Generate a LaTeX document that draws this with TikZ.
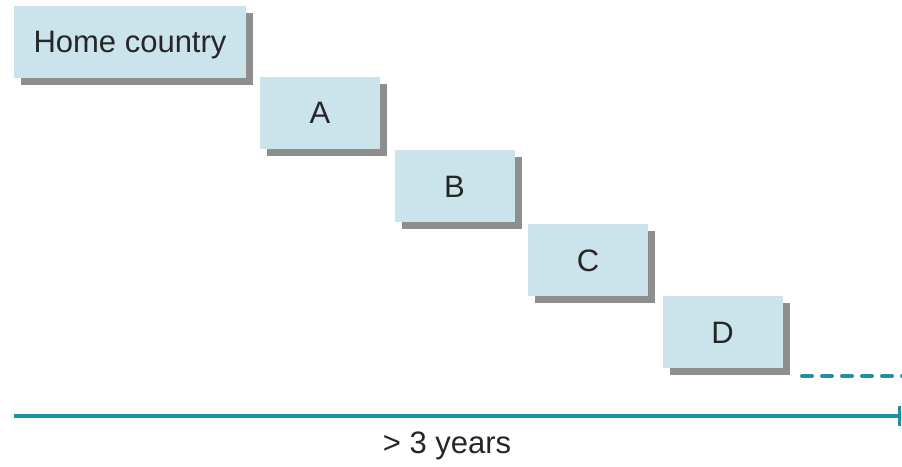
\documentclass[tikz,border=0pt]{standalone}
\usepackage{fontspec}
\setmainfont{Liberation Sans}
\usetikzlibrary{shadows,arrows.meta}
\definecolor{boxfill}{HTML}{CBE3EB}
\definecolor{shadowgray}{HTML}{8E8E8E}
\definecolor{teal}{HTML}{1E8FA8}
\begin{document}
\begin{tikzpicture}[x=1pt,y=-1pt,
  stage/.style={draw=none, fill=boxfill, minimum height=72pt, inner sep=0pt,
    font=\fontsize{31}{34}\selectfont, text=black!85,
    copy shadow={shadow xshift=7pt, shadow yshift=-7pt, fill=shadowgray, draw=none}},
  timeline/.style={draw=teal, line width=4pt}]
\useasboundingbox (0,0) rectangle (902,466);
% countries in sequence
\node[stage, minimum width=232pt, text depth=0pt, text height=22pt] (home) at (130,41.5) {Home country};
\node[stage, minimum width=120pt, text depth=0pt, text height=22pt] (a) at (320,112.5) {A};
\node[stage, minimum width=120pt, text depth=0pt, text height=22pt] (b) at (454.5,186) {B};
\node[stage, minimum width=120pt, text depth=0pt, text height=22pt] (c) at (588,260) {C};
\node[stage, minimum width=120pt, text depth=0pt, text height=22pt] (d) at (722.5,332) {D};
% continuation and time axis
\coordinate (cs) at (802,376);
\coordinate (ce) at (910,376);
\draw[timeline, line cap=round, dash pattern=on 10pt off 10pt] (cs) -- (ce);
\coordinate (t0) at (14,416);
\coordinate (t1) at (901,416);
\draw[timeline, -{Bar[width=20pt,line width=3pt]}] (t0) -- (t1);
\node[font=\fontsize{31}{34}\selectfont, text=black!85] (years) at (447,446) {> 3 years};
\end{tikzpicture}
\end{document}
